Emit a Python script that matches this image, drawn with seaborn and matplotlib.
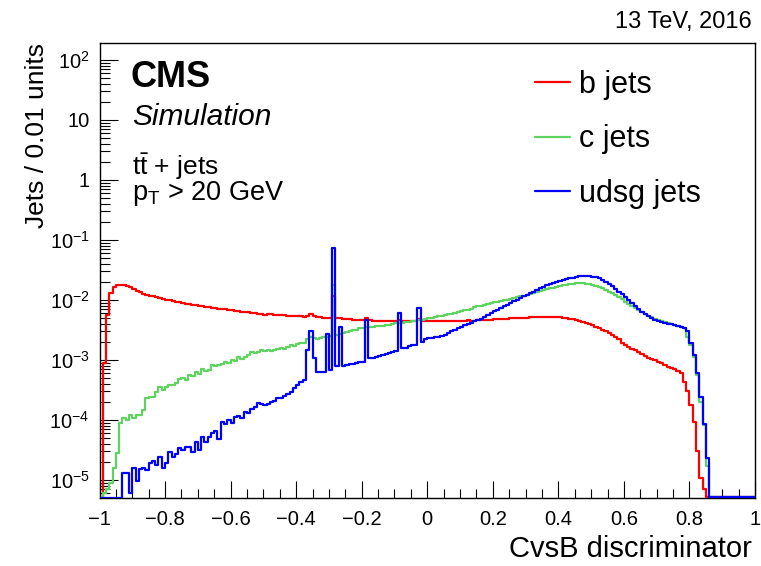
import numpy as np
import pandas as pd
import matplotlib
matplotlib.use("Agg")
import matplotlib.pyplot as plt
import seaborn as sns
from matplotlib.lines import Line2D
from matplotlib.ticker import FixedLocator, FixedFormatter, MultipleLocator, LogLocator, NullFormatter

# 200 bins of width 0.01 from -1 to 1
bin_edges = [round(-1.0 + 0.01 * i, 3) for i in range(201)]

b_jets = [
    0, 9e-4, 5.6e-3, 1.3e-2, 1.67e-2, 1.78e-2, 1.8e-2, 1.78e-2, 1.72e-2, 1.63e-2,
    1.53e-2, 1.43e-2, 1.34e-2, 1.26e-2, 1.22e-2, 1.18e-2, 1.15e-2, 1.11e-2, 1.07e-2, 1.03e-2,
    1.01e-2, 9.8e-3, 9.6e-3, 9.4e-3, 9.2e-3, 8.9e-3, 8.7e-3, 8.5e-3, 8.35e-3, 8.2e-3,
    8.05e-3, 7.9e-3, 7.75e-3, 7.6e-3, 7.45e-3, 7.3e-3, 7.2e-3, 7.05e-3, 6.95e-3, 6.8e-3,
    6.7e-3, 6.6e-3, 6.5e-3, 6.4e-3, 6.3e-3, 6.2e-3, 6.1e-3, 6.0e-3, 5.9e-3, 5.8e-3,
    5.7e-3, 5.8e-3, 5.8e-3, 5.7e-3, 5.65e-3, 5.6e-3, 5.55e-3, 5.5e-3, 5.45e-3, 5.4e-3,
    5.4e-3, 5.35e-3, 5.3e-3, 5.5e-3, 5.8e-3, 5.4e-3, 5.2e-3, 5.15e-3, 5.1e-3, 5.1e-3,
    5.0e-3, 1.15e-2, 5.0e-3, 5.05e-3, 4.9e-3, 4.8e-3, 4.75e-3, 4.7e-3, 4.65e-3, 4.6e-3,
    4.6e-3, 5.0e-3, 4.55e-3, 4.5e-3, 4.5e-3, 4.45e-3, 4.45e-3, 4.45e-3, 4.4e-3, 4.45e-3,
    4.45e-3, 4.7e-3, 4.45e-3, 4.4e-3, 4.45e-3, 4.45e-3, 4.5e-3, 4.8e-3, 4.5e-3, 4.5e-3,
    4.5e-3, 4.5e-3, 4.45e-3, 4.5e-3, 4.45e-3, 4.5e-3, 4.5e-3, 4.45e-3, 4.5e-3, 4.5e-3,
    4.5e-3, 4.5e-3, 4.55e-3, 4.5e-3, 4.5e-3, 4.55e-3, 4.6e-3, 4.6e-3, 4.65e-3, 4.7e-3,
    4.75e-3, 4.8e-3, 4.8e-3, 4.85e-3, 4.9e-3, 4.95e-3, 5.0e-3, 5.0e-3, 5.05e-3, 5.1e-3,
    5.1e-3, 5.15e-3, 5.2e-3, 5.2e-3, 5.25e-3, 5.3e-3, 5.3e-3, 5.25e-3, 5.3e-3, 5.25e-3,
    5.2e-3, 5.1e-3, 5.0e-3, 4.9e-3, 4.75e-3, 4.6e-3, 4.4e-3, 4.25e-3, 4.1e-3, 3.95e-3,
    3.8e-3, 3.6e-3, 3.4e-3, 3.2e-3, 3.0e-3, 2.8e-3, 2.6e-3, 2.45e-3, 2.2e-3, 1.95e-3,
    1.8e-3, 1.67e-3, 1.55e-3, 1.47e-3, 1.35e-3, 1.25e-3, 1.15e-3, 1.07e-3, 1.03e-3, 1.0e-3,
    9.4e-4, 8.8e-4, 8.2e-4, 7.6e-4, 7.3e-4, 7.1e-4, 6.5e-4, 6.0e-4, 4.3e-4, 3.0e-4,
    1.78e-4, 9.3e-5, 3.0e-5, 1.07e-5, 7.2e-6, 0, 0, 0, 0, 0,
    0, 0, 0, 0, 0, 0, 0, 0, 0, 0,
]

c_jets = [
    0, 6e-6, 7e-6, 9e-6, 1.6e-5, 2.8e-5, 8.8e-5, 1.07e-4, 1.0e-4, 1.2e-4,
    1.07e-4, 1.2e-4, 1.2e-4, 1.47e-4, 2.3e-4, 2.4e-4, 2.4e-4, 2.9e-4, 3.5e-4, 3.2e-4,
    3.6e-4, 3.8e-4, 3.8e-4, 4.2e-4, 4.9e-4, 5.1e-4, 4.7e-4, 5.6e-4, 5.4e-4, 6.4e-4,
    5.8e-4, 7.2e-4, 6.6e-4, 6.9e-4, 8.2e-4, 7.8e-4, 8.3e-4, 8.6e-4, 9.3e-4, 9.0e-4,
    1.0e-3, 9.6e-4, 1.13e-3, 1.05e-3, 1.13e-3, 1.2e-3, 1.37e-3, 1.3e-3, 1.37e-3, 1.47e-3,
    1.4e-3, 1.47e-3, 1.4e-3, 1.45e-3, 1.52e-3, 1.56e-3, 1.5e-3, 1.65e-3, 1.75e-3, 1.7e-3,
    1.85e-3, 1.9e-3, 1.95e-3, 2.2e-3, 2.4e-3, 2.3e-3, 2.25e-3, 2.35e-3, 2.45e-3, 2.4e-3,
    2.5e-3, 1.8e-2, 2.6e-3, 2.75e-3, 2.8e-3, 2.9e-3, 3.0e-3, 3.1e-3, 3.2e-3, 3.35e-3,
    3.45e-3, 3.5e-3, 3.55e-3, 3.6e-3, 3.65e-3, 3.7e-3, 3.75e-3, 3.8e-3, 3.9e-3, 4.0e-3,
    4.1e-3, 4.15e-3, 4.2e-3, 4.25e-3, 4.3e-3, 4.4e-3, 4.5e-3, 4.6e-3, 4.7e-3, 4.85e-3,
    5.0e-3, 5.1e-3, 5.2e-3, 5.35e-3, 5.5e-3, 5.6e-3, 5.75e-3, 5.9e-3, 6.1e-3, 6.3e-3,
    6.5e-3, 6.7e-3, 6.9e-3, 7.2e-3, 7.5e-3, 7.8e-3, 8.0e-3, 8.2e-3, 8.5e-3, 8.8e-3,
    9.1e-3, 9.3e-3, 9.5e-3, 9.8e-3, 1.01e-2, 1.04e-2, 1.08e-2, 1.11e-2, 1.15e-2, 1.18e-2,
    1.22e-2, 1.27e-2, 1.32e-2, 1.37e-2, 1.42e-2, 1.47e-2, 1.52e-2, 1.56e-2, 1.61e-2, 1.66e-2,
    1.71e-2, 1.75e-2, 1.79e-2, 1.83e-2, 1.86e-2, 1.89e-2, 1.9e-2, 1.9e-2, 1.88e-2, 1.84e-2,
    1.78e-2, 1.72e-2, 1.67e-2, 1.57e-2, 1.47e-2, 1.38e-2, 1.29e-2, 1.2e-2, 1.11e-2, 1.02e-2,
    9.4e-3, 8.7e-3, 8.0e-3, 7.4e-3, 6.8e-3, 6.3e-3, 5.85e-3, 5.5e-3, 5.15e-3, 4.9e-3,
    4.64e-3, 4.45e-3, 4.3e-3, 4.15e-3, 4.0e-3, 3.85e-3, 3.73e-3, 3.55e-3, 3.37e-3, 2.45e-3,
    1.78e-3, 1.13e-3, 5.6e-4, 2.0e-4, 8.3e-5, 1.68e-5, 0, 0, 0, 0,
    0, 0, 0, 0, 0, 0, 0, 0, 0, 0,
]

udsg_jets = [
    0, 0, 0, 0, 0, 0, 0, 1.29e-5, 1.29e-5, 6e-6,
    1.56e-5, 9.5e-6, 1.5e-5, 1.6e-5, 1.45e-5, 1.9e-5, 2.1e-5, 1.75e-5, 2.45e-5, 1.6e-5,
    1.9e-5, 2.96e-5, 2.45e-5, 2.7e-5, 3.4e-5, 3.2e-5, 3.6e-5, 3.6e-5, 2.96e-5, 4.3e-5,
    3.2e-5, 5.2e-5, 4.3e-5, 5.2e-5, 6.0e-5, 6.5e-5, 4.8e-5, 9.3e-5, 8.5e-5, 9.8e-5,
    9.0e-5, 1.13e-4, 1.18e-4, 1.08e-4, 1.38e-4, 1.3e-4, 1.5e-4, 1.67e-4, 1.9e-4, 1.85e-4,
    1.8e-4, 1.85e-4, 2.0e-4, 2.1e-4, 2.3e-4, 2.3e-4, 2.5e-4, 2.7e-4, 2.9e-4, 3.4e-4,
    3.8e-4, 4.3e-4, 4.6e-4, 1.47e-3, 3.05e-3, 1.07e-3, 6.2e-4, 6.2e-4, 6.2e-4, 2.7e-3,
    6.8e-4, 7.3e-2, 7.9e-4, 3.6e-3, 7.9e-4, 8.1e-4, 8.5e-4, 8.7e-4, 9.0e-4, 9.2e-4,
    9.4e-4, 4.6e-3, 1.07e-3, 1.08e-3, 1.12e-3, 1.18e-3, 1.22e-3, 1.28e-3, 1.33e-3, 1.38e-3,
    1.42e-3, 6.15e-3, 1.56e-3, 1.6e-3, 1.68e-3, 1.75e-3, 1.8e-3, 7.4e-3, 2.0e-3, 2.2e-3,
    2.3e-3, 2.3e-3, 2.4e-3, 2.45e-3, 2.55e-3, 2.65e-3, 2.8e-3, 3.0e-3, 3.2e-3, 3.4e-3,
    3.6e-3, 3.8e-3, 4.0e-3, 4.2e-3, 4.45e-3, 4.6e-3, 4.85e-3, 5.2e-3, 5.6e-3, 6.0e-3,
    6.5e-3, 6.9e-3, 7.4e-3, 7.9e-3, 8.4e-3, 8.9e-3, 9.5e-3, 1.01e-2, 1.08e-2, 1.15e-2,
    1.22e-2, 1.3e-2, 1.38e-2, 1.47e-2, 1.56e-2, 1.66e-2, 1.75e-2, 1.84e-2, 1.93e-2, 2.01e-2,
    2.09e-2, 2.17e-2, 2.24e-2, 2.3e-2, 2.36e-2, 2.42e-2, 2.47e-2, 2.5e-2, 2.52e-2, 2.5e-2,
    2.45e-2, 2.38e-2, 2.3e-2, 2.16e-2, 2.02e-2, 1.86e-2, 1.71e-2, 1.54e-2, 1.38e-2, 1.24e-2,
    1.11e-2, 9.9e-3, 8.8e-3, 7.9e-3, 7.0e-3, 6.4e-3, 5.77e-3, 5.35e-3, 4.95e-3, 4.7e-3,
    4.47e-3, 4.33e-3, 4.2e-3, 4.05e-3, 3.93e-3, 3.8e-3, 3.68e-3, 3.5e-3, 3.37e-3, 3.0e-3,
    1.9e-3, 1.2e-3, 6.0e-4, 2.45e-4, 8.6e-5, 2.3e-5, 0, 0, 0, 0,
    0, 0, 0, 0, 0, 0, 0, 0, 0, 0,
]

series_names = ["b jets", "c jets", "udsg jets"]
series_colors = ["#ff0000", "#5fd35f", "#0000ff"]

x_ticks = [-1.0, -0.8, -0.6, -0.4, -0.2, 0.0, 0.2, 0.4, 0.6, 0.8, 1.0]
x_tick_labels = ["\u22121", "\u22120.8", "\u22120.6", "\u22120.4", "\u22120.2", "0",
                 "0.2", "0.4", "0.6", "0.8", "1"]
y_ticks = [1e-5, 1e-4, 1e-3, 1e-2, 1e-1, 1, 10, 100]
y_tick_labels = ["$10^{-5}$", "$10^{-4}$", "$10^{-3}$", "$10^{-2}$", "$10^{-1}$",
                 "1", "10", "$10^{2}$"]

sns.set_style("white")
plt.rcParams["font.family"] = ["Liberation Sans", "DejaVu Sans"]
plt.rcParams["mathtext.fontset"] = "custom"
plt.rcParams["mathtext.rm"] = "Liberation Sans"
plt.rcParams["mathtext.it"] = "Liberation Sans:italic"
plt.rcParams["mathtext.bf"] = "Liberation Sans:bold"
plt.rcParams["text.color"] = "black"

W, H = 761, 566
fig = plt.figure(figsize=(W / 100, H / 100), dpi=100)
ax = fig.add_axes([99.5 / W, 1 - 497.5 / H, 655.5 / W, 454.5 / H])

ymin, ymax = 5.1e-6, 192
centers = [e + 0.005 for e in bin_edges[:-1]]
for vals, col in zip([b_jets, c_jets, udsg_jets], series_colors):
    # empty bins are drawn on the frame floor, like ROOT does
    df = pd.DataFrame({"x": centers, "w": np.clip(np.array(vals, dtype=float), ymin, None)})
    sns.histplot(data=df, x="x", weights="w", bins=bin_edges, element="step", fill=False,
                 color=col, linewidth=1.6, ax=ax, zorder=3)

ax.set_yscale("log")
ax.set_xlim(-1, 1)
ax.set_ylim(ymin, ymax)
ax.set_xlabel("")
ax.set_ylabel("")

ax.xaxis.set_major_locator(FixedLocator(x_ticks))
ax.xaxis.set_major_formatter(FixedFormatter(x_tick_labels))
ax.xaxis.set_minor_locator(MultipleLocator(0.05))
ax.yaxis.set_major_locator(FixedLocator(y_ticks))
ax.yaxis.set_major_formatter(FixedFormatter(y_tick_labels))
ax.yaxis.set_minor_locator(LogLocator(base=10, subs=np.arange(2, 10), numticks=20))
ax.yaxis.set_minor_formatter(NullFormatter())

ax.tick_params(which="both", direction="in", bottom=True, left=True, top=False, right=False,
               color="black", width=0.8, labelsize=14.5, labelcolor="black")
ax.tick_params(axis="x", which="major", length=12, pad=9)
ax.tick_params(axis="x", which="minor", length=6.5)
ax.tick_params(axis="y", which="major", length=13, pad=7)
ax.tick_params(axis="y", which="minor", length=7)
for sp in ax.spines.values():
    sp.set_color("black")
    sp.set_linewidth(1.0)
    sp.set_visible(True)


def fx(px):
    return px / W


def fy(py):
    return 1 - py / H


fig.text(fx(752), fy(28), "13 TeV, 2016", ha="right", va="baseline", fontsize=17)
fig.text(fx(131), fy(87), "CMS", ha="left", va="baseline", fontsize=26, fontweight="bold")
fig.text(fx(132), fy(125), "Simulation", ha="left", va="baseline", fontsize=21.5,
         fontstyle="italic")
fig.text(fx(132), fy(175), r"$\mathrm{t\bar{t}}$ + jets", ha="left", va="baseline",
         fontsize=19)
fig.text(fx(132), fy(200), r"$\mathrm{p_{T}}$ > 20 GeV", ha="left", va="baseline",
         fontsize=19.5)
fig.text(fx(37), fy(43), "Jets / 0.01 units", rotation=90, ha="center", va="top",
         fontsize=19)
fig.text(fx(752), fy(557), "CvsB discriminator", ha="right", va="baseline", fontsize=21)

handles = [Line2D([], [], color=c, lw=1.6) for c in series_colors]
ax.legend(handles, series_names, loc="upper left", bbox_to_anchor=(fx(535), fy(70)),
          bbox_transform=fig.transFigure, frameon=False, fontsize=22,
          handlelength=1.15, handletextpad=0.3, labelspacing=0.8,
          borderpad=0, borderaxespad=0)

fig.savefig("out.png", dpi=100)
